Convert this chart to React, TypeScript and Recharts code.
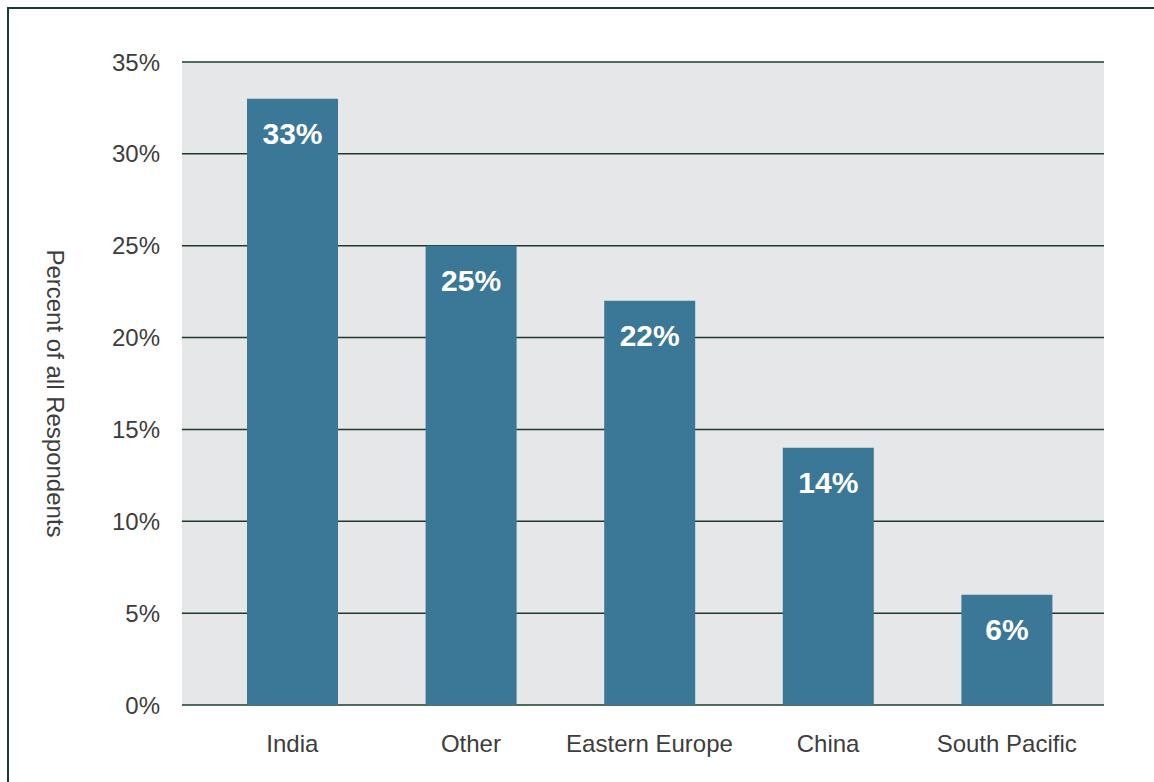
import { BarChart, Bar, XAxis, YAxis, CartesianGrid, LabelList, Label } from "recharts";

const regions = ["India", "Other", "Eastern Europe", "China", "South Pacific"];
const percents = [33, 25, 22, 14, 6];
const yTicks = [0, 5, 10, 15, 20, 25, 30, 35];

const data = regions.map((region, i) => ({ region, percent: percents[i] }));

const textColor = "#3d3d3d";
const gridColor = "#1d3b2b";
const barColor = "#3b7796";
const font = "'Liberation Sans', Arial, sans-serif";

function AxisTitle({ viewBox }: any) {
  const x = 55;
  const y = viewBox.y + viewBox.height / 2 + 10;
  return (
    <text
      x={x}
      y={y}
      transform={`rotate(90, ${x}, ${y})`}
      textAnchor="middle"
      dominantBaseline="central"
      fill={textColor}
      fontSize={24}
      fontFamily={font}
    >
      Percent of all Respondents
    </text>
  );
}

export default function App() {
  return (
    <div style={{ position: "absolute", left: 0, top: 0, width: 1154, height: 782, background: "#fff", overflow: "hidden" }}>
      <div
        style={{
          position: "absolute",
          left: 7,
          top: 7,
          width: 1200,
          height: 800,
          borderLeft: `2px solid ${gridColor}`,
          borderTop: `2px solid ${gridColor}`,
        }}
      />
      <div style={{ position: "absolute", left: 0, top: 0 }}>
        <BarChart
          width={1154}
          height={782}
          data={data}
          margin={{ top: 62, right: 50, bottom: 17, left: 62 }}
          barCategoryGap={0}
        >
          <CartesianGrid vertical={false} fill="#e6e7e9" fillOpacity={1} stroke={gridColor} strokeWidth={1.5} />
          <XAxis
            dataKey="region"
            axisLine={false}
            tickLine={false}
            tickSize={0}
            tickMargin={30}
            height={60}
            padding={{ left: 21, right: 8 }}
            tick={{ fill: textColor, fontSize: 24, fontFamily: font }}
          />
          <YAxis
            domain={[0, 35]}
            ticks={yTicks}
            interval={0}
            axisLine={false}
            tickLine={false}
            tickSize={0}
            tickMargin={22}
            width={120}
            tickFormatter={(v) => `${v}%`}
            tick={{ fill: textColor, fontSize: 24, fontFamily: font }}
          >
            <Label content={AxisTitle} />
          </YAxis>
          <Bar dataKey="percent" fill={barColor} barSize={91} isAnimationActive={false}>
            <LabelList
              dataKey="percent"
              position="insideTop"
              offset={24}
              formatter={(v: any) => `${v}%`}
              fill="#ffffff"
              fontSize={30}
              fontWeight="bold"
              fontFamily={font}
            />
          </Bar>
        </BarChart>
      </div>
    </div>
  );
}
